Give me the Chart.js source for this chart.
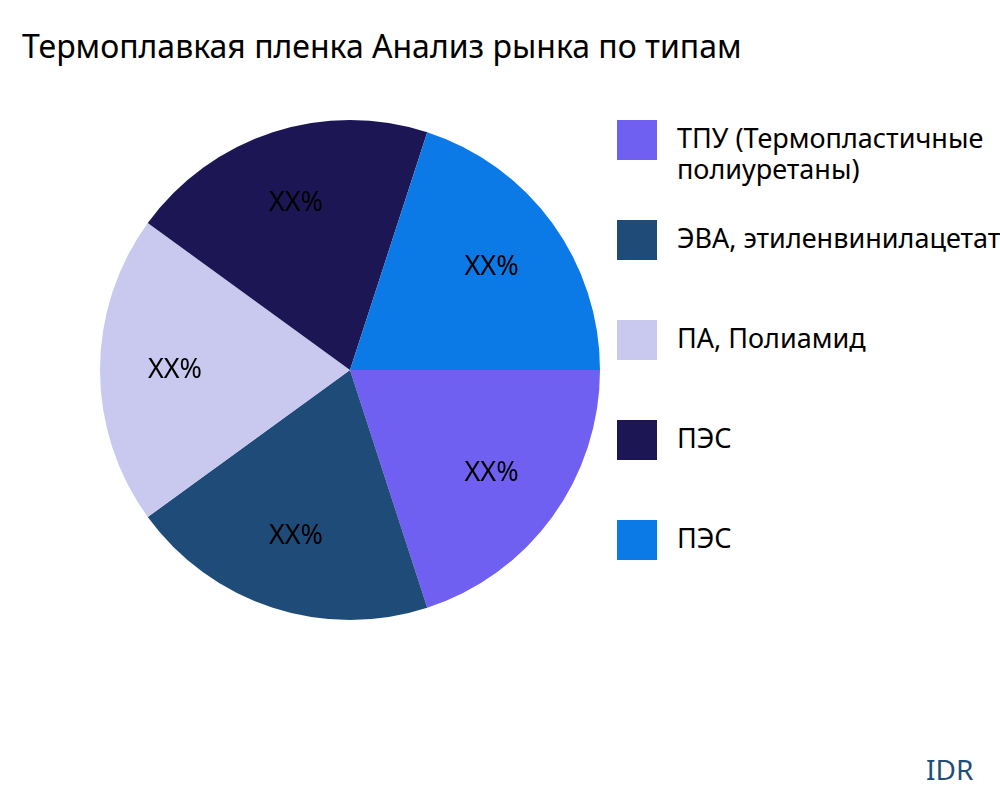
<!DOCTYPE html>
<html><head><meta charset="utf-8">
<script src="https://cdn.jsdelivr.net/npm/chart.js@4"></script>
<style>
html,body{margin:0;padding:0;width:1000px;height:800px;overflow:hidden;background:#fff;font-family:"Noto Sans",sans-serif;}
#title{position:absolute;left:22px;top:24px;font-size:32px;color:#000;white-space:nowrap;}
#wrap{position:absolute;left:100px;top:120px;width:500px;height:500px;}
.item{position:absolute;left:617px;white-space:nowrap;font-size:27px;line-height:31px;color:#000;}
.box{position:absolute;left:0;top:0;width:40px;height:40px;}
.lab{position:absolute;left:60px;top:2px;}
#idr{position:absolute;left:926px;top:750px;font-size:28px;color:#1f4e79;}
</style></head><body>
<div id="title">Термоплавкая пленка Анализ рынка по типам</div>
<div id="wrap"><canvas id="c" width="500" height="500"></canvas></div>
<div id="legend"></div>
<div id="idr">IDR</div>
<script>
const categories=["ТПУ (Термопластичные<br>полиуретаны)","ЭВА, этиленвинилацетат","ПА, Полиамид","ПЭС","ПЭС"];
const values=[20,20,20,20,20];
const sliceLabels=["XX%","XX%","XX%","XX%","XX%"];
const colors=["#7060f2","#1f4b79","#c9c9f0","#1c1754","#0c7ae6"];
const tops=[120,220,320,420,520];
const lg=document.getElementById('legend');
categories.forEach((c,i)=>{const d=document.createElement('div');d.className='item';d.style.top=tops[i]+'px';
d.innerHTML='<div class="box" style="background:'+colors[i]+'"></div><div class="lab">'+c+'</div>';lg.appendChild(d);});
const labelPlugin={id:'lbl',afterDatasetsDraw(chart){const ctx=chart.ctx;const meta=chart.getDatasetMeta(0);
ctx.save();ctx.font='27px "Noto Sans"';ctx.fillStyle='#000';ctx.textAlign='center';ctx.textBaseline='middle';
meta.data.forEach((a,i)=>{const p=a.getProps(['x','y','startAngle','endAngle','outerRadius'],true);const m=(p.startAngle+p.endAngle)/2;const r=p.outerRadius*0.7;
ctx.fillText(sliceLabels[i],p.x+Math.cos(m)*r,p.y+Math.sin(m)*r);});ctx.restore();}};
new Chart(document.getElementById('c'),{type:'pie',data:{labels:categories,datasets:[{data:values,backgroundColor:colors,borderWidth:0}]},
options:{responsive:false,animation:false,rotation:90,plugins:{legend:{display:false},tooltip:{enabled:false}},layout:{padding:0}},plugins:[labelPlugin]});
</script></body></html>
